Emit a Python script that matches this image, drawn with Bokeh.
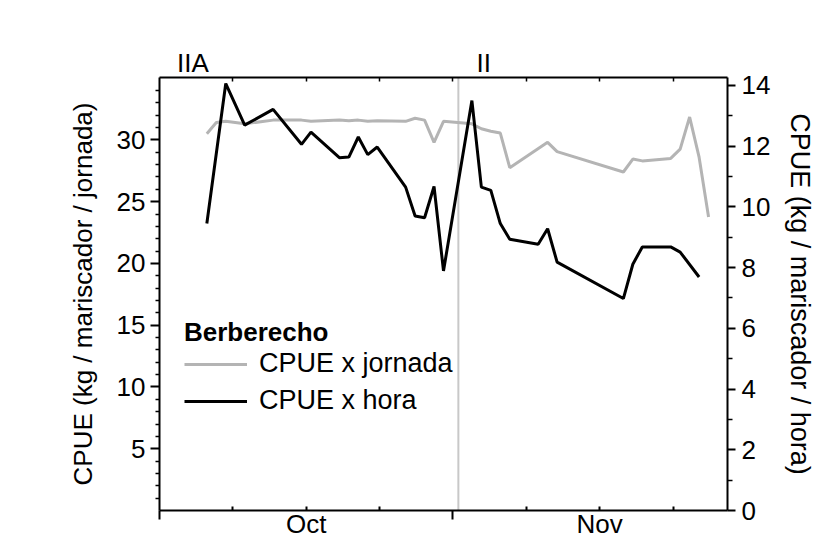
import pandas as pd
from bokeh.plotting import figure
from bokeh.models import (Range1d, LinearAxis, FixedTicker, Span, Legend,
                          LegendItem, ColumnDataSource)
from bokeh.embed import file_html
from bokeh.resources import INLINE

# ---------------- data ----------------
season_start = "2013-10-01"

jornada_dates = ["2013-10-06", "2013-10-07", "2013-10-08", "2013-10-10", "2013-10-13",
                 "2013-10-16", "2013-10-17", "2013-10-20", "2013-10-21", "2013-10-22",
                 "2013-10-23", "2013-10-24", "2013-10-27", "2013-10-28", "2013-10-29",
                 "2013-10-30", "2013-10-31", "2013-11-03", "2013-11-04", "2013-11-05",
                 "2013-11-06", "2013-11-07", "2013-11-11", "2013-11-12", "2013-11-19",
                 "2013-11-20", "2013-11-21", "2013-11-24", "2013-11-25", "2013-11-26",
                 "2013-11-27", "2013-11-28"]
cpue_jornada = [30.5, 31.4, 31.5, 31.3, 31.6,
                31.6, 31.5, 31.6, 31.55, 31.6,
                31.5, 31.55, 31.5, 31.75, 31.6,
                29.8, 31.5, 31.3, 30.9, 30.7,
                30.55, 27.75, 29.8, 29.05, 27.4,
                28.45, 28.3, 28.5, 29.25, 31.85,
                28.6, 23.75]

hora_dates = ["2013-10-06", "2013-10-08", "2013-10-10", "2013-10-13", "2013-10-16",
              "2013-10-17", "2013-10-20", "2013-10-21", "2013-10-22", "2013-10-23",
              "2013-10-24", "2013-10-27", "2013-10-28", "2013-10-29", "2013-10-30",
              "2013-10-31", "2013-11-03", "2013-11-04", "2013-11-05", "2013-11-06",
              "2013-11-07", "2013-11-10", "2013-11-11", "2013-11-12", "2013-11-19",
              "2013-11-20", "2013-11-21", "2013-11-24", "2013-11-25", "2013-11-27"]
cpue_hora = [9.45, 14.06, 12.69, 13.21, 12.06,
             12.46, 11.62, 11.64, 12.30, 11.72,
             11.97, 10.65, 9.70, 9.64, 10.67,
             7.89, 13.5, 10.65, 10.54, 9.45,
             8.93, 8.77, 9.28, 8.18, 6.98,
             8.11, 8.68, 8.68, 8.51, 7.69]

month_labels = ["Oct", "Nov"]
period_labels = ["IIA", "II"]
left_ticks = [5, 10, 15, 20, 25, 30]
right_ticks = [0, 2, 4, 6, 8, 10, 12, 14]
legend_title = "Berberecho"
series_names = ["CPUE x jornada", "CPUE x hora"]

# ---------------- derived ----------------
t0 = pd.Timestamp(season_start)
x_jornada = [(pd.Timestamp(d) - t0).days for d in jornada_dates]
x_hora = [(pd.Timestamp(d) - t0).days for d in hora_dates]

FONT = "Liberation Sans"
FS = "26px"

p = figure(width=822, height=541, output_backend="svg", toolbar_location=None,
           x_range=Range1d(0, 60), y_range=Range1d(0, 35.05),
           x_axis_location=None, y_axis_location=None,
           min_border_left=159, min_border_right=95,
           min_border_top=77, min_border_bottom=31)
p.extra_y_ranges = {"hr": Range1d(0, 14.26)}
p.outline_line_color = None
p.grid.visible = False
p.background_fill_color = "white"
p.border_fill_color = "white"


def style(ax):
    ax.axis_line_width = 2
    ax.axis_line_color = "black"
    ax.major_tick_line_width = 2
    ax.minor_tick_line_width = 1.5
    ax.major_tick_line_color = "black"
    ax.minor_tick_line_color = "black"
    ax.major_label_text_font = FONT
    ax.major_label_text_font_size = FS
    ax.major_label_text_color = "black"
    ax.axis_label_text_font = FONT
    ax.axis_label_text_font_size = FS
    ax.axis_label_text_font_style = "normal"
    ax.axis_label_text_color = "black"


q = 31 / 4.0  # quarter-month tick spacing
quarters = [q * k for k in range(1, 8) if k != 4]   # 7.75 ... 54.25 (without 31)
month_pos = [q * 2, q * 6]                          # mid-month positions

# left axis (jornada)
left = LinearAxis(ticker=FixedTicker(ticks=left_ticks,
                                     minor_ticks=[v for v in range(1, 36) if v % 5]),
                  axis_label="CPUE (kg / mariscador / jornada)")
style(left)
left.major_tick_out = 9
left.major_tick_in = 0
left.minor_tick_out = 4
left.minor_tick_in = 0
left.major_label_standoff = 5
left.axis_label_standoff = 16
p.add_layout(left, "left")

# right axis (hora)
right = LinearAxis(y_range_name="hr",
                   ticker=FixedTicker(ticks=right_ticks, minor_ticks=list(range(1, 14, 2))),
                   axis_label="CPUE (kg / mariscador / hora)")
style(right)
right.axis_label_text_font_size = "27px"
right.major_tick_out = 8
right.major_tick_in = 0
right.minor_tick_out = 5
right.minor_tick_in = 0
right.major_label_standoff = 6
right.axis_label_standoff = 12
p.add_layout(right, "right")

# bottom axis: quarter ticks inside, month labels at mid-month, month limits outside
overrides = {t: "" for t in quarters}
for name, pos in zip(month_labels, month_pos):
    overrides[pos] = name
bottom = LinearAxis(ticker=FixedTicker(ticks=quarters, minor_ticks=[0, 31]),
                    major_label_overrides=overrides)
style(bottom)
bottom.major_tick_in = 4
bottom.major_tick_out = 0
bottom.minor_tick_out = 9
bottom.minor_tick_in = 0
bottom.minor_tick_line_width = 2
bottom.major_label_standoff = -11
p.add_layout(bottom, "below")

# top axis with period labels
period_pos = [3.54, 34.25]
top = LinearAxis(ticker=FixedTicker(ticks=period_pos,
                                    minor_ticks=quarters[:3] + [31] + quarters[3:]),
                 major_label_overrides={period_pos[i]: period_labels[i] for i in range(2)})
style(top)
top.major_tick_in = 0
top.major_tick_out = 0
top.minor_tick_in = 4
top.minor_tick_out = 0
top.major_label_standoff = 0
p.add_layout(top, "above")

# vertical separator
sep = Span(location=31.57, dimension="height", line_color="#c8c8c8", line_width=2,
           level="underlay")
p.add_layout(sep)

src_j = ColumnDataSource(dict(x=x_jornada, y=cpue_jornada))
src_h = ColumnDataSource(dict(x=x_hora, y=cpue_hora))
r_j = p.line("x", "y", source=src_j, line_color="#b4b4b4", line_width=3)
r_h = p.line("x", "y", source=src_h, line_color="black", line_width=3, y_range_name="hr")

legend = Legend(items=[LegendItem(label=series_names[0], renderers=[r_j]),
                       LegendItem(label=series_names[1], renderers=[r_h])],
                title=legend_title, location=(25, 94))
legend.title_text_font = FONT
legend.title_text_font_size = FS
legend.title_text_font_style = "bold"
legend.title_text_color = "black"
legend.label_text_font = FONT
legend.label_text_font_size = "27px"
legend.label_text_color = "black"
legend.glyph_width = 63
legend.glyph_height = 30
legend.label_height = 30
legend.spacing = 6
legend.padding = 0
legend.margin = 0
legend.label_standoff = 12
legend.title_standoff = 0
legend.border_line_color = None
legend.background_fill_alpha = 0
p.add_layout(legend)

open("out.html", "w").write(file_html(p, INLINE))
